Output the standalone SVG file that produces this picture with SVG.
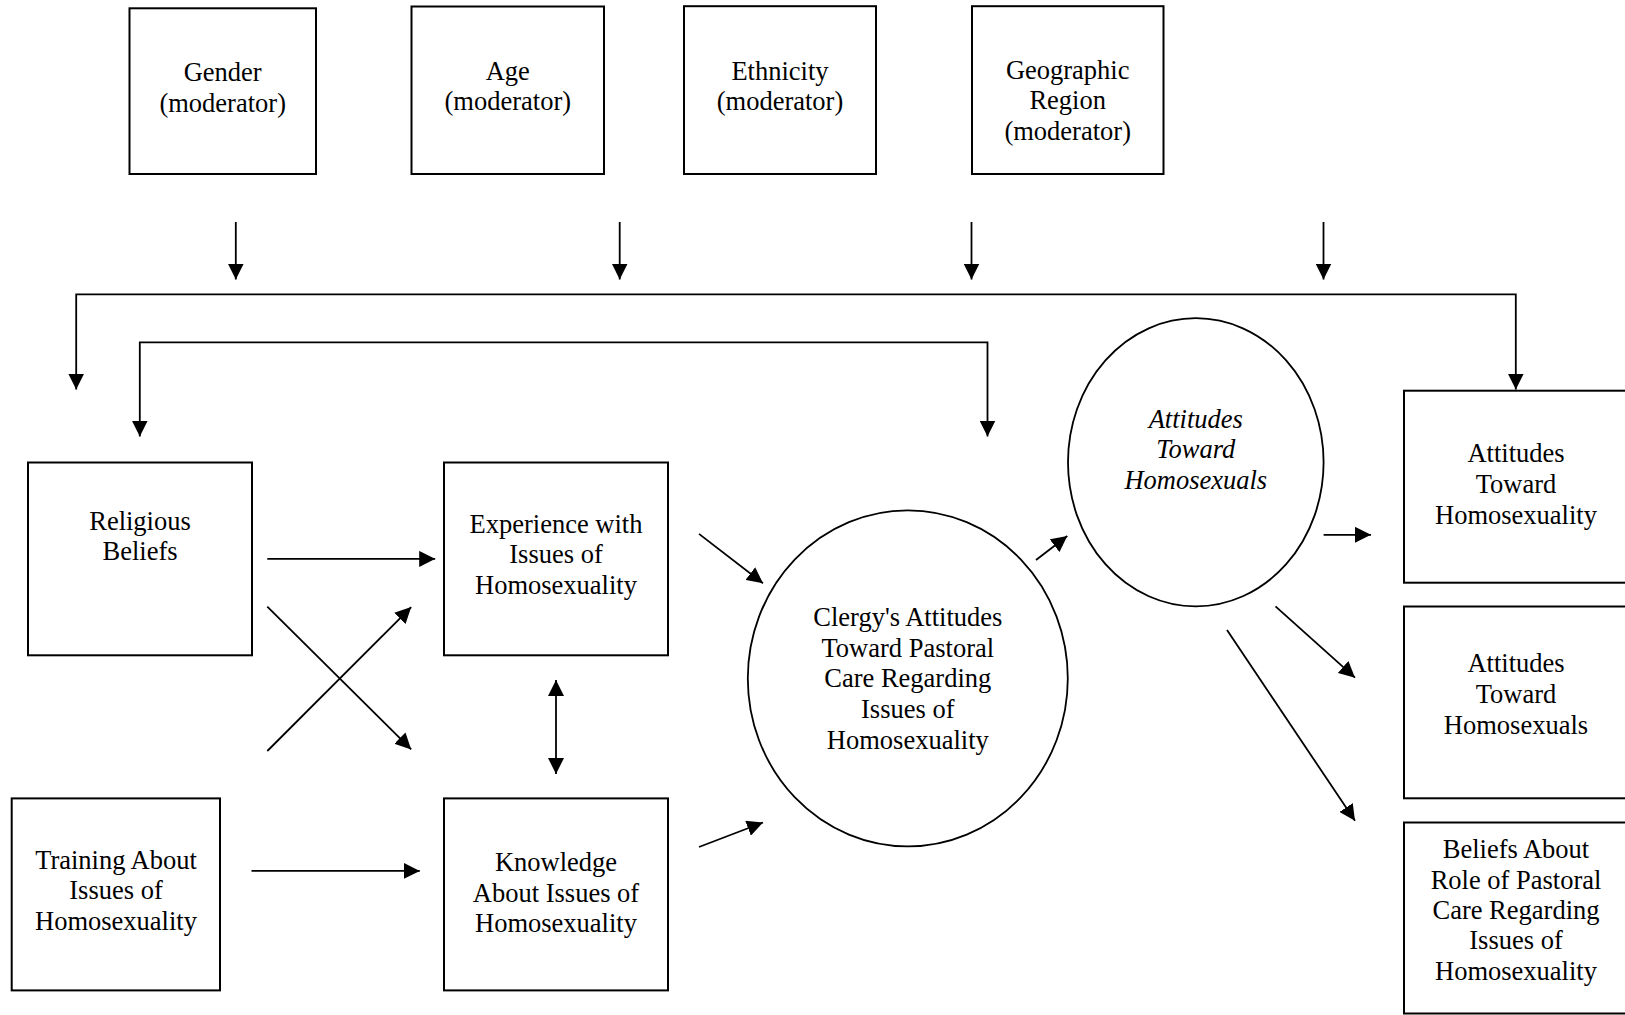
<svg xmlns="http://www.w3.org/2000/svg" width="1625" height="1015" viewBox="0 0 1625 1015">
<defs>
<style>
.box{fill:#fff;stroke:#000;stroke-width:2}
.ell{fill:#fff;stroke:#000;stroke-width:1.8}
.t{font-family:"Liberation Serif","Times New Roman",serif;font-size:26.5px;fill:#000;text-anchor:middle}
.it{font-style:italic}
.c{fill:none;stroke:#000;stroke-width:1.8}
.a{marker-end:url(#ah)}
.b{marker-start:url(#ah);marker-end:url(#ah)}
</style>
<marker id="ah" markerUnits="userSpaceOnUse" markerWidth="16" markerHeight="16" refX="15" refY="7.5" orient="auto-start-reverse" viewBox="0 0 15 15">
<path d="M0,0 L15,7.5 L0,15 z" fill="#000"/>
</marker>
</defs>
<rect width="1625" height="1015" fill="#fff"/>

<g id="gender">
<rect class="box" x="129.5" y="8.3" width="186.5" height="165.7"/>
<text class="t" x="222.7" y="81">Gender</text>
<text class="t" x="222.7" y="111.5">(moderator)</text>
</g>
<g id="age">
<rect class="box" x="411.5" y="6.5" width="192.5" height="167.5"/>
<text class="t" x="507.8" y="79.5">Age</text>
<text class="t" x="507.8" y="110">(moderator)</text>
</g>
<g id="ethnicity">
<rect class="box" x="684" y="6.2" width="192" height="167.8"/>
<text class="t" x="780" y="79.5">Ethnicity</text>
<text class="t" x="780" y="110">(moderator)</text>
</g>
<g id="geographic">
<rect class="box" x="972" y="6.2" width="191.5" height="167.8"/>
<text class="t" x="1067.7" y="79.3">Geographic</text>
<text class="t" x="1067.7" y="109">Region</text>
<text class="t" x="1067.7" y="139.5">(moderator)</text>
</g>

<g id="religious">
<rect class="box" x="28" y="462.5" width="224" height="192.8"/>
<text class="t" x="140" y="529.5">Religious</text>
<text class="t" x="140" y="560">Beliefs</text>
</g>
<g id="experience">
<rect class="box" x="444" y="462.5" width="224" height="192.8"/>
<text class="t" x="556" y="532.5">Experience with</text>
<text class="t" x="556" y="563">Issues of</text>
<text class="t" x="556" y="593.5">Homosexuality</text>
</g>
<g id="training">
<rect class="box" x="11.7" y="798.4" width="208.3" height="192"/>
<text class="t" x="116" y="868.5">Training About</text>
<text class="t" x="116" y="899">Issues of</text>
<text class="t" x="116" y="929.5">Homosexuality</text>
</g>
<g id="knowledge">
<rect class="box" x="444" y="798.4" width="224" height="192"/>
<text class="t" x="556" y="871">Knowledge</text>
<text class="t" x="556" y="901.5">About Issues of</text>
<text class="t" x="556" y="932">Homosexuality</text>
</g>

<g id="clergy">
<ellipse class="ell" cx="907.8" cy="678.4" rx="160" ry="168"/>
<text class="t" x="907.8" y="626">Clergy's Attitudes</text>
<text class="t" x="907.8" y="656.5">Toward Pastoral</text>
<text class="t" x="907.8" y="687">Care Regarding</text>
<text class="t" x="907.8" y="717.5">Issues of</text>
<text class="t" x="907.8" y="748.5">Homosexuality</text>
</g>
<g id="attitudes-homosexuals-latent">
<ellipse class="ell" cx="1195.8" cy="462.3" rx="127.8" ry="144.1"/>
<text class="t it" x="1195.8" y="427.5">Attitudes</text>
<text class="t it" x="1195.8" y="457.5">Toward</text>
<text class="t it" x="1195.8" y="488.5">Homosexuals</text>
</g>

<g id="att-homosexuality">
<rect class="box" x="1404" y="390.7" width="224" height="192"/>
<text class="t" x="1516" y="462">Attitudes</text>
<text class="t" x="1516" y="492.5">Toward</text>
<text class="t" x="1516" y="523.5">Homosexuality</text>
</g>
<g id="att-homosexuals">
<rect class="box" x="1404" y="606.5" width="224" height="191.8"/>
<text class="t" x="1516" y="672">Attitudes</text>
<text class="t" x="1516" y="702.5">Toward</text>
<text class="t" x="1516" y="733.5">Homosexuals</text>
</g>
<g id="beliefs-role">
<rect class="box" x="1404" y="822.5" width="224" height="191"/>
<text class="t" x="1516" y="857.5">Beliefs About</text>
<text class="t" x="1516" y="888.5">Role of Pastoral</text>
<text class="t" x="1516" y="919">Care Regarding</text>
<text class="t" x="1516" y="949">Issues of</text>
<text class="t" x="1516" y="980">Homosexuality</text>
</g>

<g id="connectors">
<line class="c a" x1="235.8" y1="222" x2="235.8" y2="279.5"/>
<line class="c a" x1="619.7" y1="222" x2="619.7" y2="279.5"/>
<line class="c a" x1="971.5" y1="222" x2="971.5" y2="279.5"/>
<line class="c a" x1="1323.5" y1="222" x2="1323.5" y2="279.5"/>
<path class="c b" d="M76.2,389.5 V294.3 H1515.8 V389.5"/>
<path class="c b" d="M139.8,436.5 V342.3 H987.5 V436.5"/>
<line class="c a" x1="267.3" y1="558.9" x2="435.2" y2="558.9"/>
<line class="c a" x1="267.3" y1="606.7" x2="411.2" y2="749.4"/>
<line class="c a" x1="267.3" y1="751" x2="411.2" y2="607.1"/>
<line class="c a" x1="251.5" y1="870.9" x2="419.8" y2="870.9"/>
<line class="c b" x1="556" y1="680" x2="556" y2="774"/>
<line class="c a" x1="699" y1="533.9" x2="763" y2="583.3"/>
<line class="c a" x1="699" y1="847" x2="763" y2="822.5"/>
<line class="c a" x1="1036" y1="560" x2="1067.3" y2="536"/>
<line class="c a" x1="1323.6" y1="534.8" x2="1371" y2="534.8"/>
<line class="c a" x1="1275.5" y1="606.4" x2="1355" y2="677.7"/>
<line class="c a" x1="1227" y1="630" x2="1355" y2="820.8"/>
</g>
</svg>
